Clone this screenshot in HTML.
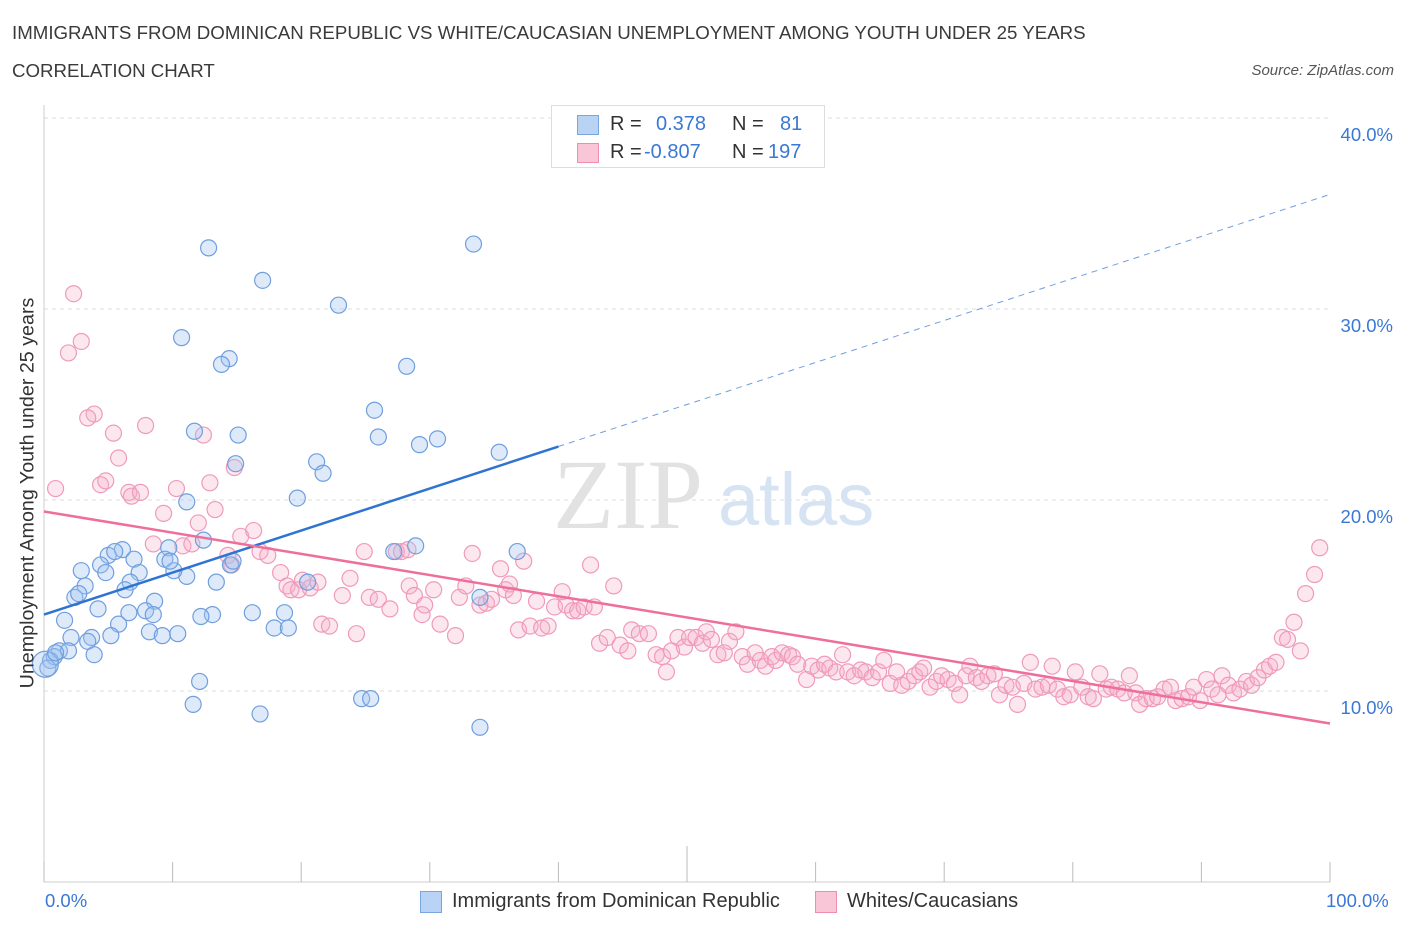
<!DOCTYPE html>
<html><head><meta charset="utf-8"><style>
body{margin:0;background:#fff;font-family:"Liberation Sans",sans-serif;}
#wrap{position:relative;width:1406px;height:930px;overflow:hidden;}
.t{position:absolute;white-space:nowrap;}
</style></head><body>
<div id="wrap">
<div class="t" style="left:12px;top:22px;font-size:18.7px;color:#3a3a3a;">IMMIGRANTS FROM DOMINICAN REPUBLIC VS WHITE/CAUCASIAN UNEMPLOYMENT AMONG YOUTH UNDER 25 YEARS</div>
<div class="t" style="left:12px;top:60px;font-size:18.7px;color:#3a3a3a;">CORRELATION CHART</div>
<div class="t" style="right:12px;top:62px;font-size:15px;color:#555;font-style:italic;">Source: ZipAtlas.com</div>
<svg id="svg" width="1406" height="930" style="position:absolute;left:0;top:0"></svg>
<div style="position:absolute;left:551px;top:105px;width:272px;height:61px;border:1px solid #ddd;background:#fff;font-size:20px;">
 <div style="position:absolute;left:25px;top:9px;width:20px;height:18px;background:#b9d3f5;border:1px solid #7aa6e0;"></div>
 <div class="t" style="left:58px;top:7px;color:#333">R =</div><div class="t" style="left:104px;top:7px;color:#3a78d6">0.378</div>
 <div class="t" style="left:180px;top:7px;color:#333">N =</div><div class="t" style="left:228px;top:7px;color:#3a78d6">81</div>
 <div style="position:absolute;left:25px;top:37px;width:20px;height:18px;background:#f8c6d6;border:1px solid #f08cb0;"></div>
 <div class="t" style="left:58px;top:35px;color:#333">R =</div><div class="t" style="left:92px;top:35px;color:#3a78d6">-0.807</div>
 <div class="t" style="left:180px;top:35px;color:#333">N =</div><div class="t" style="left:216px;top:35px;color:#3a78d6">197</div>
</div>
<div class="t" style="left:45px;top:890px;font-size:18.5px;color:#3a78d6">0.0%</div>
<div class="t" style="left:1326px;top:890px;font-size:18.5px;color:#3a78d6">100.0%</div>
<div style="position:absolute;left:420px;top:891px;width:20px;height:20px;background:#b9d3f5;border:1px solid #7aa6e0;"></div>
<div class="t" style="left:452px;top:890px;font-size:20px;color:#333">Immigrants from Dominican Republic</div>
<div style="position:absolute;left:815px;top:891px;width:20px;height:20px;background:#f8c6d6;border:1px solid #f08cb0;"></div>
<div class="t" style="left:847px;top:890px;font-size:20px;color:#333">Whites/Caucasians</div>
<div class="t" style="left:28px;top:493px;font-size:19.7px;color:#333;transform:translate(-50%,-50%) rotate(-90deg);">Unemployment Among Youth under 25 years</div>
</div>
<script>
const yTicks=[10,20,30,40];
const blueX=[12.8,17.0,33.4,22.9,10.7,14.4,13.8,28.2,25.7,11.7,15.1,26.0,29.2,30.6,35.4,14.9,21.2,21.7,19.7,11.1,28.9,27.2,36.8,9.7,12.4,5.0,6.1,5.5,7.0,9.4,2.9,4.4,4.8,7.4,14.5,11.1,10.1,6.7,3.2,2.4,2.7,6.3,13.4,20.5,8.6,4.2,7.9,6.6,8.5,13.1,12.2,16.2,18.7,1.6,5.8,8.2,9.2,10.4,2.1,3.7,3.4,5.2,17.9,19.0,1.2,1.9,3.9,0.5,0.8,0.3,12.1,11.6,16.8,24.7,25.4,33.9,33.9,14.7,9.8,0.1,0.9];
const blueY=[33.2,31.5,33.4,30.2,28.5,27.4,27.1,27.0,24.7,23.6,23.4,23.3,22.9,23.2,22.5,21.9,22.0,21.4,20.1,19.9,17.6,17.3,17.3,17.5,17.9,17.1,17.4,17.3,16.9,16.9,16.3,16.6,16.2,16.2,16.6,16.0,16.3,15.7,15.5,14.9,15.1,15.3,15.7,15.7,14.7,14.3,14.2,14.1,14.0,14.0,13.9,14.1,14.1,13.7,13.5,13.1,12.9,13.0,12.8,12.8,12.6,12.9,13.3,13.3,12.1,12.1,11.9,11.6,11.8,11.2,10.5,9.3,8.8,9.6,9.6,8.1,14.9,16.8,16.8,11.4,12.0];
const pinkX=[2.3,1.9,2.9,3.9,3.4,5.4,7.9,5.8,4.4,4.8,0.9,6.6,6.8,7.5,10.3,12.9,9.3,12.0,13.3,8.5,10.8,11.5,12.4,14.8,15.3,16.3,14.3,14.6,16.8,17.4,18.4,18.9,19.2,19.8,20.1,20.7,21.3,21.6,22.2,23.2,23.8,24.3,24.9,25.3,26.0,26.9,27.4,27.8,28.3,28.4,28.8,29.4,29.6,30.3,30.8,32.0,32.3,32.8,33.3,33.9,34.4,34.8,35.5,35.9,36.2,36.5,37.3,36.9,37.8,38.3,38.7,39.2,39.7,40.3,40.6,41.1,41.5,42.0,42.5,42.8,43.2,43.8,44.3,44.8,45.4,45.7,46.3,47.0,47.6,48.1,48.4,48.8,49.3,49.8,50.2,50.7,51.2,51.5,51.9,52.4,52.9,53.3,53.8,54.3,54.7,55.3,55.7,56.1,56.6,56.9,57.4,57.9,58.2,58.6,59.3,59.7,60.2,60.7,61.1,61.6,62.1,62.5,63.0,63.5,63.9,64.4,64.9,65.3,65.8,66.3,66.7,67.2,67.7,68.1,68.4,68.9,69.4,69.8,70.3,70.8,71.2,71.7,72.0,72.5,72.9,73.4,73.9,74.3,74.8,75.3,75.7,76.2,76.7,77.1,77.6,78.1,78.4,78.8,79.3,79.8,80.2,80.7,81.2,81.6,82.1,82.6,83.0,83.5,84.0,84.4,84.9,85.2,85.7,86.2,86.6,87.1,87.6,88.0,88.5,89.0,89.4,89.9,90.4,90.8,91.3,91.6,92.1,92.5,93.0,93.5,93.9,94.4,94.9,95.3,95.8,96.3,96.7,97.2,97.7,98.1,98.8,99.2];
const pinkY=[30.8,27.7,28.3,24.5,24.3,23.5,23.9,22.2,20.8,21.0,20.6,20.4,20.2,20.4,20.6,20.9,19.3,18.8,19.5,17.7,17.6,17.7,23.4,21.7,18.1,18.4,17.1,16.6,17.3,17.1,16.2,15.5,15.3,15.3,15.8,15.4,15.7,13.5,13.4,15.0,15.9,13.0,17.3,14.9,14.8,14.3,17.3,17.3,17.4,15.5,15.0,14.0,14.5,15.3,13.5,12.9,14.9,15.5,17.2,14.5,14.6,14.8,16.4,15.3,15.6,15.0,16.8,13.2,13.4,14.7,13.3,13.4,14.4,15.2,14.5,14.2,14.2,14.4,16.6,14.4,12.5,12.8,15.5,12.4,12.1,13.2,13.0,13.0,11.9,11.8,11.0,12.1,12.8,12.3,12.8,12.8,12.5,13.1,12.7,11.9,12.0,12.6,13.1,11.8,11.4,12.0,11.6,11.3,11.8,11.6,12.0,11.9,11.8,11.4,10.6,11.3,11.1,11.4,11.2,11.0,11.9,11.0,10.8,11.1,11.0,10.7,11.0,11.6,10.4,11.0,10.3,10.5,10.8,11.0,11.2,10.2,10.5,10.8,10.6,10.4,9.8,10.8,11.3,10.7,10.5,10.8,10.9,9.8,10.3,10.2,9.3,10.4,11.5,10.1,10.2,10.3,11.3,10.1,9.7,9.8,11.0,10.2,9.7,9.6,10.9,10.1,10.2,10.1,9.9,10.8,9.9,9.3,9.6,9.6,9.7,10.1,10.2,9.5,9.6,9.7,10.2,9.5,10.6,10.1,9.8,10.8,10.3,9.9,10.1,10.5,10.3,10.7,11.1,11.3,11.5,12.8,12.7,13.6,12.1,15.1,16.1,17.5];
const blueTrend=[14.0,36.0]; // y at x=0 and x=100
const pinkTrend=[19.4,8.3];
const NS='http://www.w3.org/2000/svg';
const svg=document.getElementById('svg');
const X=v=>44+v*12.86, Y=v=>882-v*19.1;
function mk(t,a){const e=document.createElementNS(NS,t);for(const k in a)e.setAttribute(k,a[k]);svg.appendChild(e);return e;}
yTicks.forEach(t=>{
 const l=mk('line',{x1:44,x2:1330,y1:Y(t),y2:Y(t),stroke:'#ddd','stroke-dasharray':'4,4'});
 
 
 const tx=mk('text',{x:1393,y:Y(t)+23,'text-anchor':'end','font-size':18.5,fill:'#3a78d6','font-family':'Liberation Sans'});
 tx.textContent=t.toFixed(1)+'%';
 
 
});
const ax=mk('line',{x1:44,x2:44,y1:105,y2:882,stroke:'#ccc'});


const bx=mk('line',{x1:44,x2:1330,y1:882,y2:882,stroke:'#ccc'});


for(let i=0;i<=10;i++){
 const tk=mk('line',{x1:X(i*10),x2:X(i*10),y1:i===5?846:862,y2:882,stroke:'#bbb'});
 
 
}
const w1=mk('text',{x:553,y:528,'font-size':100,fill:'#e2e2e2','font-family':'Liberation Serif'});w1.textContent='ZIP';


const w2=mk('text',{x:718,y:525,'font-size':74,fill:'#d6e3f3','font-family':'Liberation Sans'});w2.textContent='atlas';


pinkX.forEach((v,i)=>{const c=mk('circle',{cx:X(v),cy:Y(pinkY[i]),r:8,fill:'rgba(246,176,200,0.3)',stroke:'#f09abb','stroke-width':1.2});
 
 });
blueX.forEach((v,i)=>{const c=mk('circle',{cx:X(v),cy:Y(blueY[i]),r:i===blueX.length-2?13:8,fill:'rgba(160,194,240,0.35)',stroke:'#6f9fde','stroke-width':1.2});
 
 });
const bt=v=>blueTrend[0]+(blueTrend[1]-blueTrend[0])*v/100;
const l1=mk('line',{x1:X(0),y1:Y(bt(0)),x2:X(40),y2:Y(bt(40)),stroke:'#2f74d0','stroke-width':2.5});


const l2=mk('line',{x1:X(40),y1:Y(bt(40)),x2:X(100),y2:Y(bt(100)),stroke:'#6f9fde','stroke-width':1,'stroke-dasharray':'6,5'});


const l3=mk('line',{x1:X(0),y1:Y(pinkTrend[0]),x2:X(100),y2:Y(pinkTrend[1]),stroke:'#ee6f9b','stroke-width':2.5});


</script>
</body></html>
